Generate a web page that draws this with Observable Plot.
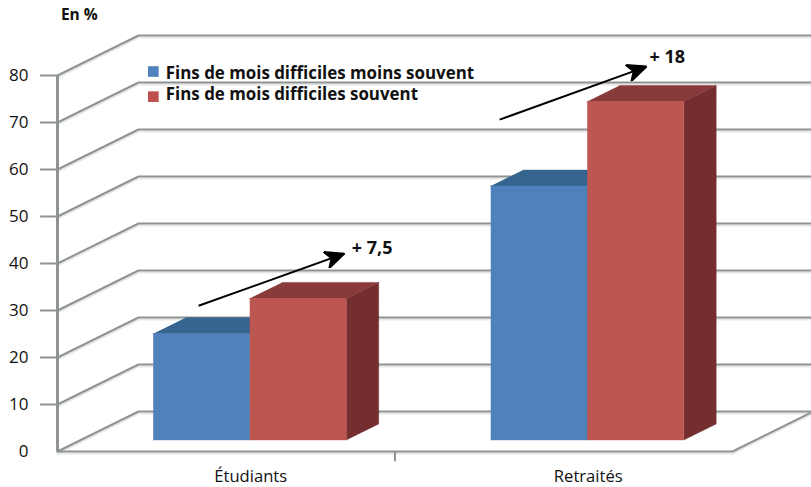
<!DOCTYPE html>
<html><head><meta charset="utf-8">
<script src="https://cdn.jsdelivr.net/npm/d3@7"></script>
<script src="https://cdn.jsdelivr.net/npm/@observablehq/plot@0.6"></script>
<style>html,body{margin:0;padding:0;background:#fff}svg{display:block}</style>
</head><body><div id="chart"></div>
<script>
const categories = ["Étudiants", "Retraités"];
const seriesNames = ["Fins de mois difficiles moins souvent", "Fins de mois difficiles souvent"];
const moinsSouvent = [22.6, 54];
const souvent = [30.1, 72];
const variations = ["+ 7,5", "+ 18"];
const yTicks = [0, 10, 20, 30, 40, 50, 60, 70, 80];
const FONT = "'Open Sans', sans-serif";

// oblique projection: depth d (0 front, 1 back wall) expressed in scale units
const DX = 0.24, DV = 8.51;
const px = (u, d) => u + d * DX;
const pv = (v, d) => v + d * DV;
const GRID = "#8f9393", SHADOW = "#e6e8e8";

const gridPts = yTicks.flatMap(t => [
  {id: t, u: px(0, 0), v: pv(t, 0)},
  {id: t, u: px(0, 1), v: pv(t, 1)},
  {id: t, u: px(2, 1), v: pv(t, 1)}
]);
const floorPts = [
  {u: px(2, 1), v: pv(0, 1)}, {u: px(2, 0), v: 0}, {u: 0, v: 0}
];

const D0 = 0.29, D1 = 0.69, BW = 0.286;
function faces(values, offset, name) {
  const front = [], top = [], side = [];
  values.forEach((val, i) => {
    const a = i + 0.5 + offset, b = a + BW, id = name + i;
    [[a,0],[b,0],[b,val],[a,val]].forEach(([u,v]) => front.push({id, u: px(u,D0), v: pv(v,D0)}));
    [[a,D0],[b,D0],[b,D1],[a,D1]].forEach(([u,d]) => top.push({id, u: px(u,d), v: pv(val,d)}));
    [[D0,0],[D1,0],[D1,val],[D0,val]].forEach(([d,v]) => side.push({id, u: px(b,d), v: pv(v,d)}));
  });
  return {front, top, side};
}
const blue = faces(moinsSouvent, -BW, "b");
const red = faces(souvent, 0, "r");
const poly = (pts, fill) => Plot.line(pts, {x: "u", y: "v", z: "id", fill, stroke: fill, strokeWidth: 0.5, curve: "linear"});

const arrows = [
  {x1: 0.418, v1: 31, x2: 0.85, v2: 42.1},
  {x1: 1.31, v1: 70.6, x2: 1.745, v2: 81.9}
];
const arrowLabels = [
  {u: 0.872, v: 43.3, t: variations[0]},
  {u: 1.754, v: 83.8, t: variations[1]}
];
function headMarker(color, context) {
  const NS = "http://www.w3.org/2000/svg";
  const doc = context.document;
  const m = doc.createElementNS(NS, "marker");
  m.setAttribute("viewBox", "-20 -9 22 18");
  m.setAttribute("markerWidth", 22);
  m.setAttribute("markerHeight", 18);
  m.setAttribute("refX", 0);
  m.setAttribute("refY", 0);
  m.setAttribute("markerUnits", "userSpaceOnUse");
  m.setAttribute("orient", "auto");
  const p = doc.createElementNS(NS, "path");
  p.setAttribute("d", "M0,0L-19,-8.5L-13.5,0L-19,8.5Z");
  p.setAttribute("fill", "#000");
  m.appendChild(p);
  return m;
}

const legend = seriesNames.map((s, i) => ({s, i, v: [80.85, 75.5][i], tv: [80.5, 75.85][i], fill: ["#4f81bd", "#c0504d"][i]}));

const chart = Plot.plot({
  width: 811, height: 487,
  marginLeft: 57, marginRight: 79, marginTop: 75, marginBottom: 36,
  style: {background: "#fff", fontFamily: FONT, color: "#111"},
  x: {domain: [0, 2], axis: null},
  y: {domain: [0, 80], axis: null},
  marks: [
    // shadows + walls
    Plot.line(gridPts, {x: "u", y: "v", z: "id", stroke: SHADOW, strokeWidth: 2, dy: 2}),
    Plot.line(gridPts, {x: "u", y: "v", z: "id", stroke: GRID, strokeWidth: 2}),
    Plot.line(floorPts, {x: "u", y: "v", stroke: SHADOW, strokeWidth: 2, dy: 2}),
    Plot.line(floorPts, {x: "u", y: "v", stroke: GRID, strokeWidth: 2}),
    Plot.ruleX([0], {y1: 0, y2: 80, stroke: GRID, strokeWidth: 3}),
    Plot.ruleY(yTicks.slice(1), {x1: -0.05, x2: 0, stroke: GRID, strokeWidth: 2}),
    Plot.ruleX([1], {y1: 0, y2: -2.2, stroke: GRID, strokeWidth: 2}),
    // axes
    Plot.axisY({ticks: yTicks, tickSize: 0, tickPadding: 29, fontSize: 17, anchor: "left", label: null, tickFormat: d => d}),
    Plot.axisX({ticks: [0.5, 1.5], tickSize: 0, tickPadding: 18.5, fontSize: 16.6, anchor: "bottom", label: null, dx: 24.5,
      tickFormat: d => categories[Math.floor(d)]}),
    // bars
    poly(blue.side, "#2f5c85"),
    poly(blue.top, "#35658f"),
    poly(blue.front, "#4f81bd"),
    poly(red.side, "#752e30"),
    poly(red.top, "#893a3a"),
    poly(red.front, "#bd5551"),
    // arrows
    Plot.link(arrows, {x1: "x1", y1: "v1", x2: "x2", y2: "v2", stroke: "#000", strokeWidth: 2, markerEnd: headMarker}),
    Plot.text(arrowLabels, {x: "u", y: "v", text: "t", textAnchor: "start", fontWeight: "bold", fontSize: 18, fill: "#111"}),
    // legend
    Plot.dot(legend, {x: 0.284, y: "v", symbol: "square", r: 6, fill: "fill"}),
    Plot.text(legend, {x: 0.321, y: "tv", text: "s", textAnchor: "start", fontWeight: "bold", fontSize: 16.9, fill: "#111"}),
    // unit label
    Plot.text(["En %"], {x: 0.01, y: 92.8, textAnchor: "start", fontWeight: "bold", fontSize: 15.5, fill: "#111"})
  ]
});
document.getElementById("chart").appendChild(chart);
</script></body></html>
